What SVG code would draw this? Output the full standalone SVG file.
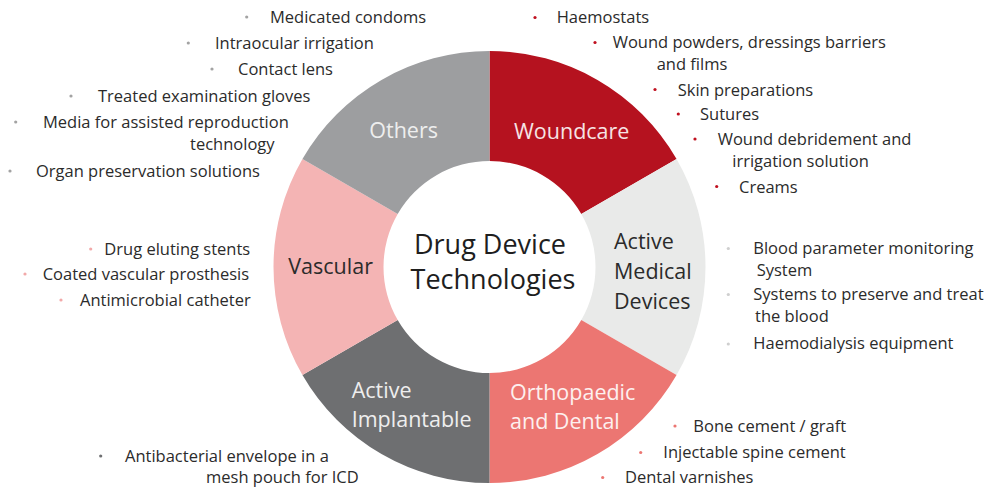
<svg xmlns="http://www.w3.org/2000/svg" width="989" height="488" viewBox="0 0 989 488">
<style>
text{font-family:"Open Sans","Noto Sans","Liberation Sans",sans-serif;}
.it{font-size:16.5px;fill:#2b2b2b;}
.lb{font-size:21.5px;}
.ctr{font-size:27px;fill:#1e1e1e;text-anchor:middle;}
.dg{fill:#a3a3a3;} .dr{fill:#c0101f;} .dl{fill:#cfcfcf;} .dp{fill:#f2a9a9;} .dk{fill:#6e6f71;} .ds{fill:#ec7672;}
</style>
<g id="ring">
<g id="woundcare"><path d="M489.5,51 A216,216 0 0 1 676.56,159 L581.3,214 A106,106 0 0 0 489.5,161 Z" fill="#b5121f"/><text class="lb" x="514" y="139" fill="#f6e3e4">Woundcare</text></g>
<g id="active-medical"><path d="M676.56,159 A216,216 0 0 1 676.56,375 L581.3,320 A106,106 0 0 0 581.3,214 Z" fill="#e9eae9"/><text class="lb" fill="#2b2b2b"><tspan x="614" y="249">Active</tspan><tspan x="614" y="279">Medical</tspan><tspan x="614" y="308.5">Devices</tspan></text></g>
<g id="orthopaedic"><path d="M676.56,375 A216,216 0 0 1 489.5,483 L489.5,373 A106,106 0 0 0 581.3,320 Z" fill="#ec7672"/><text class="lb" fill="#fdf0ef"><tspan x="510" y="399.5">Orthopaedic</tspan><tspan x="510" y="428.5">and Dental</tspan></text></g>
<g id="active-implantable"><path d="M489.5,483 A216,216 0 0 1 302.44,375 L397.7,320 A106,106 0 0 0 489.5,373 Z" fill="#6e6f71"/><text class="lb" fill="#eeeeee"><tspan x="351.7" y="397.5">Active</tspan><tspan x="351.7" y="426.7">Implantable</tspan></text></g>
<g id="vascular"><path d="M302.44,375 A216,216 0 0 1 302.44,159 L397.7,214 A106,106 0 0 0 397.7,320 Z" fill="#f4b4b4"/><text class="lb" x="288.3" y="274.3" fill="#2b2b2b">Vascular</text></g>
<g id="others"><path d="M302.44,159 A216,216 0 0 1 489.5,51 L489.5,161 A106,106 0 0 0 397.7,214 Z" fill="#9d9ea0"/><text class="lb" x="369.3" y="138.3" fill="#eeeeee">Others</text></g>
<g id="center"><text class="ctr"><tspan x="490" y="254.3">Drug Device</tspan><tspan x="493" y="289.3">Technologies</tspan></text></g>
</g>
<g id="list-others">
<circle class="dg" cx="246.7" cy="17" r="1.6"/><text class="it" x="270" y="22.7">Medicated condoms</text>
<circle class="dg" cx="188.3" cy="43" r="1.6"/><text class="it" x="215" y="49.3">Intraocular irrigation</text>
<circle class="dg" cx="212" cy="69" r="1.6"/><text class="it" x="238" y="75">Contact lens</text>
<circle class="dg" cx="71" cy="96" r="1.6"/><text class="it" x="98" y="101.7">Treated examination gloves</text>
<circle class="dg" cx="15.7" cy="122" r="1.6"/><text class="it" x="43" y="128.3">Media for assisted reproduction</text>
<text class="it" x="190" y="150">technology</text>
<circle class="dg" cx="10" cy="171" r="1.6"/><text class="it" x="36" y="176.7">Organ preservation solutions</text>
</g>
<g id="list-woundcare">
<circle class="dr" cx="535" cy="17.5" r="1.6"/><text class="it" x="556.7" y="23.3">Haemostats</text>
<circle class="dr" cx="595" cy="42.5" r="1.6"/><text class="it" x="612.7" y="48.3">Wound powders, dressings barriers</text>
<text class="it" x="656.7" y="70">and films</text>
<circle class="dr" cx="655" cy="89.5" r="1.6"/><text class="it" x="677.7" y="95.7">Skin preparations</text>
<circle class="dr" cx="678.3" cy="114" r="1.6"/><text class="it" x="700" y="120">Sutures</text>
<circle class="dr" cx="695" cy="139" r="1.6"/><text class="it" x="717.7" y="145">Wound debridement and</text>
<text class="it" x="732.3" y="166.7">irrigation solution</text>
<circle class="dr" cx="716.7" cy="186.5" r="1.6"/><text class="it" x="739" y="192.7">Creams</text>
</g>
<g id="list-active-medical">
<circle class="dl" cx="728.3" cy="248.5" r="1.6"/><text class="it" x="753.3" y="254.3">Blood parameter monitoring</text>
<text class="it" x="756.7" y="275.7">System</text>
<circle class="dl" cx="728.3" cy="294.5" r="1.6"/><text class="it" x="753.3" y="299.5">Systems to preserve and treat</text>
<text class="it" x="755" y="321.8">the blood</text>
<circle class="dl" cx="728.3" cy="344" r="1.6"/><text class="it" x="753.3" y="349.3">Haemodialysis equipment</text>
</g>
<g id="list-vascular">
<circle class="dp" cx="90.7" cy="249" r="1.6"/><text class="it" x="104.3" y="255">Drug eluting stents</text>
<circle class="dp" cx="25" cy="274" r="1.6"/><text class="it" x="42.7" y="280">Coated vascular prosthesis</text>
<circle class="dp" cx="61" cy="300" r="1.6"/><text class="it" x="80" y="306">Antimicrobial catheter</text>
</g>
<g id="list-implantable">
<circle class="dk" cx="100.7" cy="456" r="1.6"/><text class="it" x="125" y="461.5">Antibacterial envelope in a</text>
<text class="it" x="206" y="483">mesh pouch for ICD</text>
</g>
<g id="list-orthopaedic">
<circle class="ds" cx="675" cy="426" r="1.6"/><text class="it" x="693.3" y="431.7">Bone cement / graft</text>
<circle class="ds" cx="640.7" cy="452.5" r="1.6"/><text class="it" x="663.3" y="458.3">Injectable spine cement</text>
<circle class="ds" cx="602.7" cy="477.5" r="1.6"/><text class="it" x="625" y="483.3">Dental varnishes</text>
</g>
</svg>
